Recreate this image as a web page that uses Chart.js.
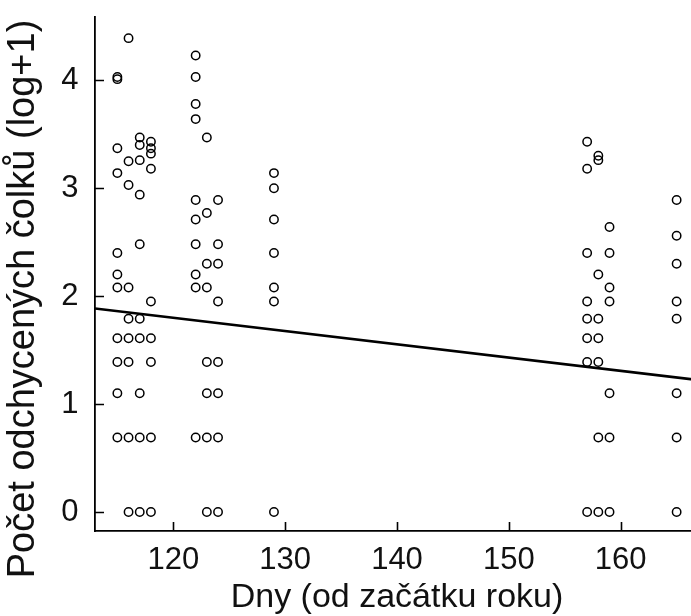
<!DOCTYPE html>
<html>
<head>
<meta charset="utf-8">
<script src="https://cdn.jsdelivr.net/npm/chart.js@4.4.1/dist/chart.umd.min.js"></script>
<style>
  html, body { margin: 0; padding: 0; background: #ffffff; overflow: hidden; }
  #wrap { width: 691px; height: 616px; overflow: hidden; }
  #c { display: block; }
</style>
</head>
<body>
<div id="wrap"><canvas id="c" width="699" height="616"></canvas></div>
<script>
// Day of year of each capture night and log(count + 1) of caught newts
const days = [
  115, 115, 115, 115, 115, 115, 115, 115, 115, 115, 115,
  116, 116, 116, 116, 116, 116, 116, 116, 116,
  117, 117, 117, 117, 117, 117, 117, 117, 117, 117,
  118, 118, 118, 118, 118, 118, 118, 118, 118,
  122, 122, 122, 122, 122, 122, 122, 122, 122, 122,
  123, 123, 123, 123, 123, 123, 123, 123,
  124, 124, 124, 124, 124, 124, 124, 124,
  129, 129, 129, 129, 129, 129, 129,
  157, 157, 157, 157, 157, 157, 157, 157,
  158, 158, 158, 158, 158, 158, 158, 158,
  159, 159, 159, 159, 159, 159, 159,
  165, 165, 165, 165, 165, 165, 165, 165
];
const logCounts = [
  4.01, 4.03, 3.37, 3.14, 2.40, 2.20, 2.08, 1.61, 1.39, 1.10, 0.69,
  4.39, 3.25, 3.03, 2.08, 1.79, 1.61, 1.39, 0.69, 0,
  3.47, 3.40, 3.26, 2.94, 2.48, 1.79, 1.61, 1.10, 0.69, 0,
  3.43, 3.37, 3.32, 3.18, 1.95, 1.61, 1.39, 0.69, 0,
  4.23, 4.03, 3.78, 3.64, 2.89, 2.71, 2.48, 2.20, 2.08, 0.69,
  3.47, 2.77, 2.30, 2.08, 1.39, 1.10, 0.69, 0,
  2.89, 2.48, 2.30, 1.95, 1.39, 1.10, 0.69, 0,
  3.14, 3.00, 2.71, 2.40, 2.08, 1.95, 0,
  3.43, 3.18, 2.40, 1.95, 1.79, 1.61, 1.39, 0,
  3.30, 3.26, 2.20, 1.79, 1.61, 1.39, 0.69, 0,
  2.64, 2.40, 2.08, 1.95, 1.10, 0.69, 0,
  2.89, 2.56, 2.30, 1.95, 1.79, 1.10, 0.69, 0
];

// Linear fit drawn across the whole x range
const fitDays = [113, 167];
const fitValues = [1.886, 1.222];

// Axis ticks and titles
const xTicks = [120, 130, 140, 150, 160];
const yTicks = [0, 1, 2, 3, 4];
const xTitle = 'Dny (od začátku roku)';
const yTitle = 'Počet odchycených čolků (log+1)';

const FONT = '"Liberation Sans", Arial, sans-serif';
const INK = '#111111';

const points = days.map((d, i) => ({ x: d, y: logCounts[i] }));
const fitLine = fitDays.map((d, i) => ({ x: d, y: fitValues[i] }));

// Tick marks pointing into the plot, plus the rotated y-axis title
const innerTicks = {
  id: 'innerTicks',
  afterDraw(chart) {
    const { ctx, chartArea, scales } = chart;
    ctx.save();
    ctx.strokeStyle = '#000';
    ctx.lineWidth = 1.6;
    ctx.beginPath();
    xTicks.forEach(v => {
      const px = Math.round(scales.x.getPixelForValue(v)) + 0.5;
      ctx.moveTo(px, chartArea.bottom);
      ctx.lineTo(px, chartArea.bottom - 9);
    });
    yTicks.forEach(v => {
      const py = Math.round(scales.y.getPixelForValue(v)) + 0.5;
      ctx.moveTo(chartArea.left, py);
      ctx.lineTo(chartArea.left + 9, py);
    });
    ctx.stroke();

    ctx.translate(24, 299);
    ctx.rotate(-Math.PI / 2);
    ctx.font = '38px ' + FONT;
    ctx.fillStyle = INK;
    ctx.textAlign = 'center';
    ctx.textBaseline = 'middle';
    ctx.fillText(yTitle, 0, 0);
    ctx.restore();
  }
};

new Chart(document.getElementById('c'), {
  type: 'scatter',
  data: {
    datasets: [
      {
        data: points,
        pointStyle: 'circle',
        pointRadius: 4.2,
        borderColor: '#000',
        borderWidth: 1.5,
        backgroundColor: 'rgba(0,0,0,0)',
        order: 2
      },
      {
        type: 'line',
        data: fitLine,
        borderColor: '#000',
        borderWidth: 2.6,
        pointRadius: 0,
        fill: false,
        order: 1
      }
    ]
  },
  options: {
    responsive: false,
    animation: false,
    devicePixelRatio: 1,
    layout: { autoPadding: false, padding: { top: 17, left: 0, right: 0, bottom: 0 } },
    plugins: { legend: { display: false }, tooltip: { enabled: false } },
    scales: {
      x: {
        type: 'linear',
        min: 113,
        max: 167,
        afterBuildTicks: s => { s.ticks = xTicks.map(v => ({ value: v })); },
        afterFit: s => { s.height = 85; s.paddingLeft = 0; s.paddingRight = 0; },
        grid: { display: false, drawTicks: false },
        border: { display: true, color: '#000', width: 1.8 },
        ticks: {
          color: INK,
          font: { family: FONT, size: 31 },
          padding: 11,
          maxRotation: 0,
          autoSkip: false
        },
        title: {
          display: true,
          text: xTitle,
          color: INK,
          font: { family: FONT, size: 34 },
          padding: { top: 0, bottom: -2 }
        }
      },
      y: {
        type: 'linear',
        min: -0.176,
        max: 4.586,
        afterBuildTicks: s => { s.ticks = yTicks.map(v => ({ value: v })); },
        afterFit: s => { s.width = 95; s.paddingTop = 0; s.paddingBottom = 0; },
        grid: { display: false, drawTicks: false },
        border: { display: true, color: '#000', width: 1.8 },
        ticks: {
          color: INK,
          font: { family: FONT, size: 31 },
          padding: 16.5,
          autoSkip: false
        }
      }
    }
  },
  plugins: [innerTicks]
});
</script>
</body>
</html>
